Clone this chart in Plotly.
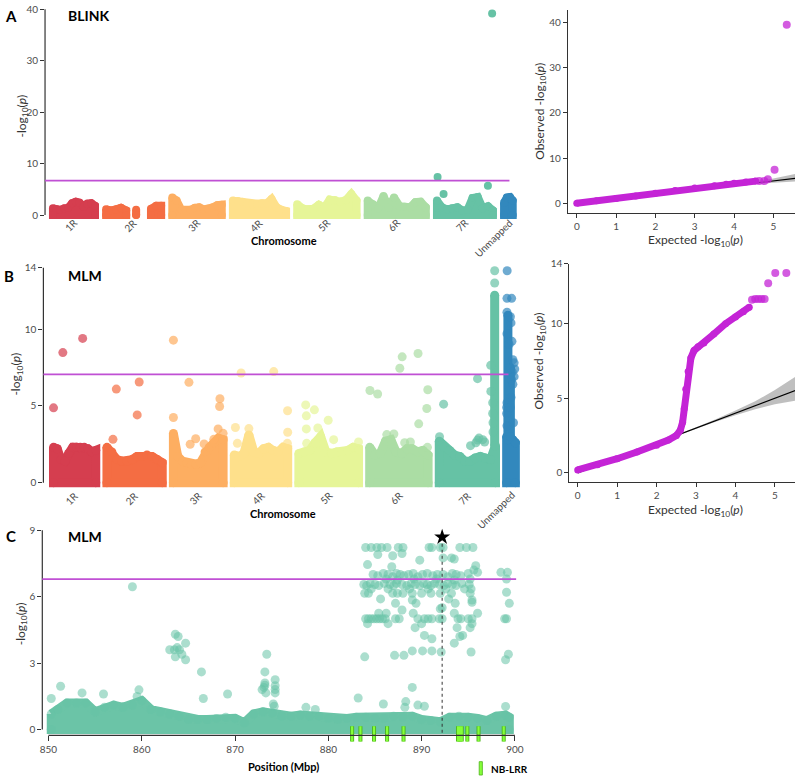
import plotly.graph_objects as go

W, H = 796, 780
FONT = "Lato"

# ---------------- genome layout ----------------
CHROMS = ["1R", "2R", "3R", "4R", "5R", "6R", "7R", "Unmapped"]
CHROM_LEN = [680, 890, 800, 860, 960, 940, 905, 140]   # Mbp
CHROM_GAP = 180
COLORS = ["#D53E4F", "#F46D43", "#FDAE61", "#FEE08B", "#E6F598", "#ABDDA4", "#66C2A5", "#3288BD"]

# ---------------- dense-SNP envelopes (top of the dense cloud, -log10 p) ----------------
pos_1r = [0, 60, 120, 185, 245, 310, 370, 430, 495, 555, 620, 680]
blink_1r = [1.3, 1.1, 1.0, 1.3, 1.4, 2.3, 2.6, 2.4, 1.6, 2.2, 2.3, 1.8]
mlm_1r = [2.3, 2.2, 1.5, 1.4, 1.9, 2.3, 2.3, 2.3, 2.3, 2.2, 2.0, 2.1]

pos_2r = [0, 80, 160, 240, 325, 405, 485, 565, 645, 725, 810, 890]
blink_2r = [1.1, 0.9, 1.1, 1.4, 0.9, None, 1.0, None, None, 1.2, 1.8, 1.8]
mlm_2r = [2.3, 2.0, 1.5, 1.4, 1.4, 1.5, 1.7, 1.7, 1.8, 1.7, 1.5, 1.3]

pos_3r = [0, 70, 145, 220, 290, 365, 435, 510, 580, 655, 725, 800]
blink_3r = [3.4, 2.8, 1.0, 0.9, 1.0, 1.4, 1.5, 1.1, 1.2, 1.5, 1.9, 2.0]
mlm_3r = [3.2, 1.7, 1.4, 1.3, 1.2, 1.2, 1.3, 2.0, 2.3, 2.6, 2.9, 2.8]

pos_4r = [0, 80, 155, 235, 315, 390, 470, 550, 625, 705, 785, 860]
blink_4r = [2.8, 2.7, 2.6, 2.2, 2.1, 2.2, 2.3, 2.3, 3.1, 1.5, 1.0, 0.8]
mlm_4r = [1.8, 1.7, 1.9, 3.1, 2.0, 1.9, 2.2, 2.3, 2.1, 2.0, 2.3, 2.2]

pos_5r = [0, 85, 175, 260, 350, 435, 525, 610, 700, 785, 875, 960]
blink_5r = [2.1, 1.3, 1.1, 1.2, 2.0, 1.4, 3.0, 2.9, 2.6, 2.9, 4.1, 2.8]
mlm_5r = [1.9, 2.0, 2.1, 2.6, 3.0, 2.0, 1.9, 2.0, 2.0, 2.1, 2.3, 2.2]

pos_6r = [0, 85, 170, 255, 340, 425, 515, 600, 685, 770, 855, 940]
blink_6r = [2.8, 2.1, 1.3, 3.7, 1.4, 3.4, 1.7, 1.6, 1.5, 2.5, 2.6, 1.5]
mlm_6r = [2.3, 1.8, 1.9, 2.7, 2.8, 2.0, 1.9, 2.2, 2.2, 2.0, 2.1, 1.8]

pos_7r = [0, 80, 165, 245, 330, 410, 495, 575, 660, 740, 825, 905]
blink_7r = [2.8, 1.5, 1.1, 1.3, 1.5, 0.9, 1.0, 3.3, 3.5, 1.3, 1.7, 0.9]
mlm_7r = [2.7, 2.3, 2.1, 1.8, 1.7, 1.4, 1.4, 1.6, 1.7, 1.6, 1.5, 2.4]

pos_un = [0, 45, 95, 140]
blink_un = [2.4, 3.4, 3.5, 2.8]
mlm_un = [3.0, 3.0, 2.8, 2.6]

# ---------------- individual SNPs above the dense cloud ----------------
blink_pt_chr = ["7R", "7R", "7R", "7R"]
blink_pt_pos = [10, 107, 824, 892]
blink_pt_val = [7.4, 4.1, 5.7, 39.2]

mlm_pt_chr = (["1R"] * 3 + ["2R"] * 4 + ["3R"] * 11 + ["4R"] * 8 + ["5R"] * 9
              + ["6R"] * 13 + ["7R"] * 17 + ["Unmapped"] * 23)
mlm_pt_pos = [0, 150, 469,
              97, 151, 519, 487,
              0, 0, 250, 270, 359, 494, 749, 744, 720, 800, 650,
              18, 50, 110, 235, 635, 858, 860, 855,
              110, 120, 250, 120, 305, 472, 560, 125, 960,
              4, 128, 275, 389, 485, 523, 778, 935, 919, 789, 563, 655, 930,
              4, 70, 616, 616, 730, 503, 828, 830, 860, 860, 865, 865, 590, 640, 700, 892, 892,
              8, 5, 80, 5, 70, 5, 85, 100, 120, 130, 80, 100, 70, 5, 0, 0, 5, 110, 60, 40, 90, 120, 60]
mlm_pt_val = [4.87, 8.47, 9.39,
              2.82, 6.09, 6.55, 4.41,
              9.28, 4.24, 6.53, 2.5, 2.86, 2.52, 5.46, 4.96, 3.5, 3.21, 2.82,
              3.59, 2.56, 7.14, 3.52, 7.23, 4.68, 3.28, 2.56,
              5.06, 4.35, 4.74, 3.5, 3.56, 4.06, 2.8, 2.56, 2.65,
              6.0, 5.77, 3.13, 3.17, 7.45, 8.19, 8.41, 6.05, 4.83, 3.83, 2.6, 2.65, 2.3,
              2.99, 5.11, 6.77, 2.77, 2.65, 2.41, 7.64, 5.94, 5.2, 4.5, 3.9, 3.3, 2.6, 2.9, 2.8, 13.8, 13.0,
              13.8, 12.0, 12.0, 11.1, 10.4, 9.7, 9.2, 8.0, 7.8, 7.4, 6.7, 6.4, 5.55, 5.2, 4.9, 4.5, 3.7, 3.9,
              10.8, 9.0, 7.2, 6.9, 4.9]

# dense vertical columns of significant SNPs (MLM)
mlm_col_chr = ["7R", "Unmapped", "Unmapped"]
mlm_col_pos = [892, 20, 60]
mlm_col_lo = [2.4, 2.8, 3.0]
mlm_col_hi = [12.2, 10.9, 7.5]

BLINK_THRESH = 6.7
MLM_THRESH = 7.05

# ---------------- QQ plots ----------------
qqa_exp = [0.0, 0.5, 1.0, 1.5, 2.0, 2.5, 3.0, 3.5, 3.8, 4.0, 4.3, 4.55]
qqa_obs = [0.05, 0.6, 1.1, 1.65, 2.25, 2.85, 3.45, 3.95, 4.25, 4.45, 4.75, 4.95]
qqa_tail_exp = [4.64, 4.77, 4.86, 5.03, 5.34]
qqa_tail_obs = [4.95, 5.0, 5.35, 7.45, 39.5]

qqb_exp = [0.0, 0.5, 1.0, 1.5, 2.0, 2.3, 2.5, 2.6, 2.66, 2.7, 2.74, 2.8, 2.87, 2.95, 3.05, 3.2,
           3.45, 3.75, 4.0, 4.2, 4.35]
qqb_obs = [0.2, 0.55, 0.95, 1.4, 1.85, 2.2, 2.5, 2.85, 3.4, 4.3, 5.6, 6.8, 7.7, 8.2, 8.45, 8.7,
           9.3, 10.0, 10.45, 10.8, 11.1]
qqb_tail_exp = [4.42, 4.5, 4.58, 4.66, 4.74, 4.83, 5.01, 5.29]
qqb_tail_obs = [11.6, 11.65, 11.65, 11.65, 11.65, 12.7, 13.4, 13.4]

ci_exp = [2.5, 3.0, 3.5, 4.0, 4.5, 5.0, 5.3, 5.55]
ci_lo = [2.47, 2.95, 3.42, 3.87, 4.26, 4.6, 4.75, 4.85]
ci_hi = [2.53, 3.06, 3.6, 4.18, 4.8, 5.55, 6.05, 6.5]
diag_x = [0.0, 5.6]
diag_y = [0.0, 5.6]

# ---------------- panel C: 7R 850-900 Mbp (MLM) ----------------
c_band_pos = [850.3, 851, 852, 853, 854, 855, 856, 857, 858, 859, 860, 861, 862, 863, 864, 865,
              866, 867, 868, 869, 870, 871, 872, 873, 874, 875, 876, 877, 878, 879, 880, 881,
              882, 883, 884, 885, 886, 887, 888, 889, 890, 891, 892, 893, 894, 895, 896, 897,
              898, 899, 899.4]
c_band_top = [0.7, 0.9, 1.2, 1.2, 1.2, 0.8, 1.0, 1.1, 1.0, 1.1, 1.3, 0.9, 0.8, 0.7, 0.6, 0.45,
              0.45, 0.45, 0.5, 0.55, 0.5, 0.3, 0.7, 0.8, 0.75, 0.6, 0.6, 0.65, 0.6, 0.6, 0.5, 0.45,
              0.5, 0.55, 0.55, 0.5, 0.5, 0.6, 0.55, 0.6, 0.45, 0.4, 0.35, 0.55, 0.6, 0.55, 0.5, 0.4,
              0.6, 0.65, 0.55]

c_pt_pos = [
    # 850-880
    850.3, 851.3, 853.6, 855.9, 859.0, 859.7, 859.5,
    863.0, 863.5, 863.6, 863.8, 864.05, 863.6, 864.7, 864.7, 864.3, 863.9,
    866.4, 866.6, 869.2,
    873.2, 873.2, 873.1, 873.3, 873.4, 872.9, 873.2,
    874.3, 874.3, 874.3, 874.3, 874.1, 874.2, 877.6, 878.6,
    # 880-900, row ~8.2
    884.0, 884.6, 885.2, 885.7, 886.3, 887.5, 888.0, 890.8, 891.1, 892.0, 892.3, 894.1, 894.8, 895.5,
    # ~7.9
    885.3, 886.9, 887.9, 892.3, 893.2,
    # 7.2-7.7
    884.2, 886.8, 889.8, 893.5, 895.8, 895.6,
    # ~7.0
    884.8, 885.3, 885.9, 886.4, 886.9, 887.3, 887.7, 888.1, 888.6, 889.1, 889.6, 890.1, 890.6,
    891.2, 891.7, 892.3, 892.8, 893.3, 893.7, 894.2, 895.0, 896.0, 898.5, 899.2,
    # ~6.8
    886.2, 887.4, 889.2, 891.6, 893.5, 895.2, 899.1,
    # ~6.55
    883.8, 884.1, 884.5, 885.0, 885.4, 886.0, 886.6, 887.0, 887.3, 887.9, 888.4, 888.9, 889.3,
    889.8, 890.2, 890.6, 891.0, 891.4, 891.9, 892.4, 892.8, 893.3, 893.7, 894.3, 895.1,
    # ~6.35
    884.6, 886.4, 888.7, 890.7, 892.6, 894.6, 895.3,
    # ~6.15
    883.9, 884.3, 886.9, 887.4, 888.0, 889.0, 890.0, 891.0, 892.0, 893.2, 895.2, 899.1,
    # 5.4-5.9
    885.6, 889.0, 892.9, 895.4, 887.2, 889.4, 893.6, 895.4, 899.4, 887.9, 892.0, 892.2,
    885.4, 886.2, 889.1, 893.5, 896.0,
    # ~5.0
    884.0, 884.3, 884.6, 884.9, 885.2, 885.5, 885.8, 886.1, 887.2, 887.6, 889.6, 890.3, 890.7,
    891.1, 891.9, 892.2, 893.9, 894.2, 895.0, 895.4, 898.9, 899.1,
    # 3.1-4.8
    884.2, 886.4, 890.0, 895.4, 889.3, 893.8, 895.2, 890.3, 891.1, 894.1, 894.4, 893.5,
    889.0, 890.1, 891.1, 892.1, 895.3, 883.9, 887.1, 888.1, 899.3, 899.0,
    # low singles
    883.2, 889.0, 888.3, 889.6, 890.3, 885.9, 899.0, 888.2,
]
c_pt_val = [
    1.4, 1.95, 1.65, 1.6, 6.45, 1.79, 1.49,
    3.6, 3.6, 4.3, 3.7, 3.6, 3.28, 3.9, 3.15, 3.4, 4.2,
    2.6, 1.4, 1.6,
    2.6, 2.1, 1.9, 1.65, 3.4, 1.8, 2.0,
    2.25, 1.98, 1.8, 1.65, 1.15, 1.05, 1.0, 0.9,
    8.22, 8.22, 8.22, 8.22, 8.22, 8.22, 8.22, 8.22, 8.22, 8.22, 8.22, 8.22, 8.22, 8.22,
    7.9, 7.85, 7.95, 7.75, 7.75,
    7.45, 7.35, 7.65, 7.7, 7.4, 7.2,
    7.0, 6.95, 7.05, 7.0, 6.9, 7.05, 7.0, 6.95, 7.0, 7.05, 6.9, 7.0, 7.05,
    6.95, 7.0, 7.0, 6.9, 7.05, 7.0, 6.95, 7.05, 7.1, 7.1, 7.1,
    6.8, 6.75, 6.8, 6.8, 6.75, 6.8, 6.8,
    6.55, 6.5, 6.6, 6.55, 6.5, 6.6, 6.55, 6.5, 6.6, 6.55, 6.5, 6.6, 6.55,
    6.5, 6.6, 6.55, 6.5, 6.6, 6.55, 6.5, 6.6, 6.55, 6.5, 6.6, 6.55,
    6.35, 6.35, 6.35, 6.35, 6.35, 6.35, 6.35,
    6.15, 6.15, 6.15, 6.15, 6.15, 6.15, 6.15, 6.15, 6.15, 6.15, 6.15, 6.2,
    5.9, 5.85, 5.9, 5.85, 5.7, 5.7, 5.7, 5.75, 5.7, 5.4, 5.45, 5.5,
    5.25, 5.25, 5.25, 5.25, 5.25,
    5.0, 5.0, 5.0, 5.0, 5.0, 5.0, 5.0, 5.0, 5.0, 5.0, 5.0, 5.0, 5.0,
    5.0, 5.0, 5.0, 5.0, 5.0, 5.0, 5.0, 5.0, 5.0,
    4.78, 4.78, 4.78, 4.78, 4.6, 4.6, 4.6, 4.25, 4.1, 4.2, 4.25, 3.9,
    3.55, 3.55, 3.55, 3.5, 3.5, 3.28, 3.35, 3.35, 3.4, 3.15,
    1.42, 1.9, 1.26, 1.1, 1.05, 1.15, 1.04, 1.0,
]
C_THRESH = 6.79
lead_snp_pos = [892.2]
lead_snp_val = [8.69]
nblrr_pos = [882.55, 883.44, 884.9, 886.3, 888.06, 893.9, 894.1, 894.3, 894.9, 896.1, 898.8]

# ======================================================================
def xd(l, r):
    return [l / W, r / W]


def yd(t, b):
    return [1 - b / H, 1 - t / H]


def rgba(hexc, a):
    hexc = hexc.lstrip("#")
    r, g, b = int(hexc[0:2], 16), int(hexc[2:4], 16), int(hexc[4:6], 16)
    return f"rgba({r},{g},{b},{a})"


starts = []
acc = 0
for L in CHROM_LEN:
    starts.append(acc)
    acc += L + CHROM_GAP
START = dict(zip(CHROMS, starts))
CCOL = dict(zip(CHROMS, COLORS))
centers = [s + L / 2 for s, L in zip(starts, CHROM_LEN)]

fig = go.Figure()


def add_blob(xs, ys, color, xa, ya, size, top_color=None):
    segs, cur = [], []
    for x, y in zip(xs, ys):
        if y is None:
            if cur:
                segs.append(cur)
            cur = []
        else:
            cur.append((x, y))
    if cur:
        segs.append(cur)
    for seg in segs:
        sx = [p[0] for p in seg]
        sy = [p[1] for p in seg]
        px = sx + sx[::-1] + [sx[0]]
        py = sy + [0] * len(sx) + [sy[0]]
        fig.add_trace(go.Scatter(x=px, y=py, mode="lines", fill="toself", fillcolor=color,
                                 line=dict(color=color, width=size), xaxis=xa, yaxis=ya,
                                 hoverinfo="skip", showlegend=False))
        fig.add_trace(go.Scatter(x=sx + [sx[0], sx[-1]], y=sy + [0, 0], mode="markers",
                                 marker=dict(color=top_color or color, size=size, line=dict(width=0)),
                                 xaxis=xa, yaxis=ya, cliponaxis=False, hoverinfo="skip",
                                 showlegend=False))


pos_lists = [pos_1r, pos_2r, pos_3r, pos_4r, pos_5r, pos_6r, pos_7r, pos_un]
blink_lists = [blink_1r, blink_2r, blink_3r, blink_4r, blink_5r, blink_6r, blink_7r, blink_un]
mlm_lists = [mlm_1r, mlm_2r, mlm_3r, mlm_4r, mlm_5r, mlm_6r, mlm_7r, mlm_un]

# ---------------- Panel A: BLINK Manhattan ----------------
for c, pos, vals in zip(CHROMS, pos_lists, blink_lists):
    add_blob([START[c] + p for p in pos], vals, CCOL[c], "x", "y", 8)
fig.add_trace(go.Scatter(x=[START[c] + p for c, p in zip(blink_pt_chr, blink_pt_pos)], y=blink_pt_val,
                         mode="markers", marker=dict(color=[CCOL[c] for c in blink_pt_chr], size=8),
                         xaxis="x", yaxis="y", cliponaxis=False, showlegend=False))

# ---------------- Panel B: MLM Manhattan ----------------
for c, pos, vals in zip(CHROMS, pos_lists, mlm_lists):
    add_blob([START[c] + p for p in pos], vals, CCOL[c], "x3", "y3", 9)
for c, p, lo, hi in zip(mlm_col_chr, mlm_col_pos, mlm_col_lo, mlm_col_hi):
    fig.add_trace(go.Scatter(x=[START[c] + p, START[c] + p], y=[lo, hi], mode="lines+markers",
                             line=dict(color=CCOL[c], width=9), marker=dict(color=CCOL[c], size=9),
                             xaxis="x3", yaxis="y3", cliponaxis=False, showlegend=False))
fig.add_trace(go.Scatter(x=[START[c] + p for c, p in zip(mlm_pt_chr, mlm_pt_pos)], y=mlm_pt_val,
                         mode="markers", marker=dict(color=[rgba(CCOL[c], 0.7) for c in mlm_pt_chr], size=9),
                         xaxis="x3", yaxis="y3", cliponaxis=False, showlegend=False))

# ---------------- QQ plots ----------------
MAG = "#C424D6"
for xa, ya, ex, ob, tex, tob, sz in [("x2", "y2", qqa_exp, qqa_obs, qqa_tail_exp, qqa_tail_obs, 7),
                                     ("x4", "y4", qqb_exp, qqb_obs, qqb_tail_exp, qqb_tail_obs, 7)]:
    fig.add_trace(go.Scatter(x=ci_exp + ci_exp[::-1], y=ci_hi + ci_lo[::-1], fill="toself",
                             fillcolor="rgba(180,180,180,0.85)", line=dict(width=0), mode="lines",
                             xaxis=xa, yaxis=ya, hoverinfo="skip", showlegend=False))
    fig.add_trace(go.Scatter(x=diag_x, y=diag_y, mode="lines", line=dict(color="black", width=1.1),
                             xaxis=xa, yaxis=ya, showlegend=False))
    fig.add_trace(go.Scatter(x=ex, y=ob, mode="lines+markers", line=dict(color=MAG, width=sz),
                             marker=dict(color=MAG, size=sz), xaxis=xa, yaxis=ya, cliponaxis=False,
                             showlegend=False))
    fig.add_trace(go.Scatter(x=tex, y=tob, mode="markers", marker=dict(color=rgba(MAG, 0.75), size=sz + 1),
                             xaxis=xa, yaxis=ya, cliponaxis=False, showlegend=False))

# ---------------- Panel C ----------------
TEAL = "#66C2A5"
add_blob(c_band_pos, c_band_top, "#6BC4A7", "x5", "y5", 9, top_color=rgba(TEAL, 0.55))
fig.add_trace(go.Scatter(x=c_pt_pos, y=c_pt_val, mode="markers",
                         marker=dict(color=rgba(TEAL, 0.55), size=9, line=dict(width=0)),
                         xaxis="x5", yaxis="y5", cliponaxis=False, showlegend=False))
NB_BASE, NB_TOP = -0.55, 0.15
nbx, nby = [], []
for p in nblrr_pos:
    nbx += [p, p, None]
    nby += [NB_BASE, NB_TOP, None]
fig.add_trace(go.Scatter(x=nbx, y=nby, mode="lines", line=dict(color="#4DB31A", width=4),
                         xaxis="x5", yaxis="y5", showlegend=False))
fig.add_trace(go.Scatter(x=nbx, y=nby, mode="lines", line=dict(color="#86FF3A", width=2.2),
                         xaxis="x5", yaxis="y5", showlegend=False))
fig.add_trace(go.Scatter(x=lead_snp_pos, y=lead_snp_val, mode="markers",
                         marker=dict(symbol="star", color="black", size=12),
                         xaxis="x5", yaxis="y5", cliponaxis=False, showlegend=False))

# ---------------- axes ----------------
TICKF = dict(family=FONT, size=10, color="#4D4D4D")
AXC = "#333333"
common = dict(showgrid=False, zeroline=False, tickfont=TICKF)

fig.update_layout(
    xaxis=dict(domain=xd(42.25, 520), range=[-128, 7559], anchor="y", showline=False, ticks="",
               showticklabels=False, **common),
    yaxis=dict(domain=yd(2, 215), range=[-0.79, 40.25], anchor="x", showline=False, ticks="outside",
               ticklen=4, tickcolor=AXC, tickvals=[0, 10, 20, 30, 40], **common),
    xaxis2=dict(domain=xd(567.7, 796), range=[-0.228, 5.55], anchor="y2", showline=True, linecolor=AXC,
                linewidth=1.2, ticks="outside", ticklen=4, tickcolor=AXC, tickvals=[0, 1, 2, 3, 4, 5], **common),
    yaxis2=dict(domain=yd(4, 209), range=[-2.12, 42.75], anchor="x2", showline=True, linecolor=AXC,
                linewidth=1.2, ticks="outside", ticklen=4, tickcolor=AXC, tickvals=[0, 10, 20, 30, 40], **common),
    xaxis3=dict(domain=xd(40.6, 522), range=[-163, 7548], anchor="y3", showline=False, ticks="",
                showticklabels=False, **common),
    yaxis3=dict(domain=yd(262, 487), range=[-0.39, 14.13], anchor="x3", showline=False, ticks="outside",
                ticklen=4, tickcolor=AXC, tickvals=[0, 5, 10, 14], **common),
    xaxis4=dict(domain=xd(569.3, 796), range=[-0.21, 5.51], anchor="y4", showline=True, linecolor=AXC,
                linewidth=1.2, ticks="outside", ticklen=4, tickcolor=AXC, tickvals=[0, 1, 2, 3, 4, 5], **common),
    yaxis4=dict(domain=yd(260, 480), range=[-0.59, 14.02], anchor="x4", showline=True, linecolor=AXC,
                linewidth=1.2, ticks="outside", ticklen=4, tickcolor=AXC, tickvals=[0, 5, 10, 14], **common),
    xaxis5=dict(domain=xd(39.5, 522), range=[849.34, 900.8], anchor="free", position=1 - 736 / H,
                showline=False, ticks="outside", ticklen=5, tickcolor=AXC,
                tickvals=[850, 860, 870, 880, 890, 900], **common),
    yaxis5=dict(domain=yd(524, 744), range=[-0.627, 9.225], anchor="x5", showline=False, ticks="outside",
                ticklen=4, tickcolor=AXC, tickvals=[0, 3, 6, 9], **common),
)

shapes = []
for xref, yref, top in [("x domain", "y", 40), ("x3 domain", "y3", 14), ("x5 domain", "y5", 9)]:
    shapes.append(dict(type="line", xref=xref, yref=yref, x0=0, x1=0, y0=0, y1=top,
                       line=dict(color=AXC, width=1.2)))
shapes.append(dict(type="line", xref="x5", yref="paper", x0=850, x1=900, y0=1 - 736 / H, y1=1 - 736 / H,
                   line=dict(color=AXC, width=1.2)))
THR = "#C050D4"
shapes.append(dict(type="line", xref="x domain", yref="y", x0=0, x1=0.977, y0=BLINK_THRESH, y1=BLINK_THRESH,
                   line=dict(color=THR, width=1.8)))
shapes.append(dict(type="line", xref="x3 domain", yref="y3", x0=0, x1=0.971, y0=MLM_THRESH, y1=MLM_THRESH,
                   line=dict(color=THR, width=1.8)))
shapes.append(dict(type="line", xref="x5 domain", yref="y5", x0=0, x1=0.987, y0=C_THRESH, y1=C_THRESH,
                   line=dict(color=THR, width=1.8)))
shapes.append(dict(type="line", xref="x5", yref="y5", x0=lead_snp_pos[0], x1=lead_snp_pos[0], y0=-0.15, y1=8.45,
                   line=dict(color="#333333", width=1, dash="dot")))
shapes.append(dict(type="rect", xref="paper", yref="paper", x0=478.6 / W, x1=481.8 / W,
                   y0=1 - 776 / H, y1=1 - 762.5 / H, fillcolor="#86FF3A", line=dict(color="#4DB31A", width=0.8)))
fig.update_layout(shapes=shapes)


def ann(text, x, y, size=12, bold=False, color="#333333", angle=0, xanchor="center", yanchor="middle"):
    if bold:
        text = "<b>" + text + "</b>"
    return dict(text=text, x=x / W, y=1 - y / H, xref="paper", yref="paper", showarrow=False,
                font=dict(family=FONT, size=size, color=color), textangle=angle,
                xanchor=xanchor, yanchor=yanchor)


LOGP = "-log<sub>10</sub>(<i>p</i>)"
anns = [
    ann("A", 8, 10, 15, True, "black"), ann("BLINK", 63.5, 10, 14, True, "black", xanchor="left"),
    ann("B", 6, 272, 15, True, "black"), ann("MLM", 63.5, 272, 14, True, "black", xanchor="left"),
    ann("C", 8, 535, 15, True, "black"), ann("MLM", 63.5, 535, 14, True, "black", xanchor="left"),
    ann(LOGP, 18.6, 111, 12, angle=-90), ann(LOGP, 14, 371, 12, angle=-90), ann(LOGP, 18, 623, 12, angle=-90),
    ann("Observed " + LOGP, 539.5, 106, 12, angle=-90), ann("Observed " + LOGP, 539.5, 358, 12, angle=-90),
    ann("Expected " + LOGP, 696, 237, 12), ann("Expected " + LOGP, 696, 509, 12),
    ann("Chromosome", 282, 237, 11, True, "black"), ann("Chromosome", 281, 512, 11, True, "black"),
    ann("Position (Mbp)", 281.5, 767, 11, True, "black"),
    ann("NB-LRR", 488, 770, 10, True, "black", xanchor="left"),
]
# rotated chromosome labels (ends at the chromosome centre)
for xa, top in [("x", 209.5), ("x3", 484.5)]:
    for c, cx in zip(CHROMS, centers):
        anns.append(dict(text=c, x=cx, y=1 - top / H, xref=xa, yref="paper", showarrow=False,
                         font=dict(family=FONT, size=10, color="#4D4D4D"), textangle=-45,
                         xanchor="right", yanchor="top", xshift=9))

fig.update_layout(annotations=anns, width=W, height=H, margin=dict(l=0, r=0, t=0, b=0),
                  paper_bgcolor="white", plot_bgcolor="white", showlegend=False,
                  font=dict(family=FONT, size=10, color="#4D4D4D"), hovermode=False)

fig.write_html("out.html", config={"displayModeBar": False},
               post_script="document.body.style.margin='0';document.body.style.padding='0';")
